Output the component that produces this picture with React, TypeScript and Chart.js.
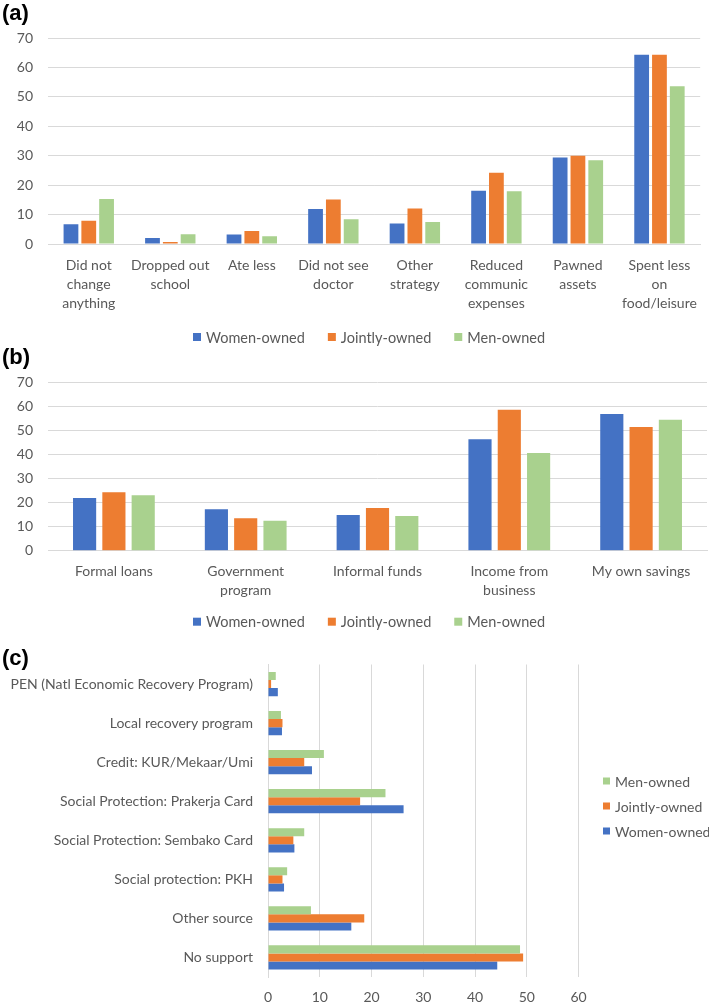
import React, { useEffect, useRef } from "react";
import { Chart, registerables } from "chart.js";

Chart.register(...registerables);

const FONT = "Lato, 'Noto Sans', sans-serif";
const TEXT = "#595959";
const GRID = "#D9D9D9";
const BLUE = "#4472C4";
const ORANGE = "#ED7D31";
const GREEN = "#A9D18E";

const seriesLabels = ["Women-owned", "Jointly-owned", "Men-owned"];

// (a) coping strategies
const copingCategories = [
  ["Did not", "change", "anything"],
  ["Dropped out", "school"],
  ["Ate less"],
  ["Did not see", "doctor"],
  ["Other", "strategy"],
  ["Reduced", "communic", "expenses"],
  ["Pawned", "assets"],
  ["Spent less", "on", "food/leisure"],
];
const copingWomen = [6.7, 2.0, 3.2, 11.9, 7.0, 18.1, 29.4, 64.3];
const copingJoint = [7.9, 0.7, 4.4, 15.1, 12.1, 24.2, 30.0, 64.3];
const copingMen = [15.3, 3.3, 2.6, 8.4, 7.5, 17.9, 28.5, 53.6];

// (b) funding sources
const fundingCategories = [
  ["Formal loans"],
  ["Government", "program"],
  ["Informal funds"],
  ["Income from", "business"],
  ["My own savings"],
];
const fundingWomen = [21.9, 17.2, 14.8, 46.3, 56.8];
const fundingJoint = [24.3, 13.5, 17.7, 58.6, 51.4];
const fundingMen = [23.1, 12.5, 14.4, 40.6, 54.4];

// (c) support received
const supportCategories = [
  "PEN (Natl Economic Recovery Program)",
  "Local recovery program",
  "Credit: KUR/Mekaar/Umi",
  "Social Protection: Prakerja Card",
  "Social Protection: Sembako Card",
  "Social protection: PKH",
  "Other source",
  "No support",
];
const supportMen = [1.5, 2.5, 10.8, 22.7, 7.0, 3.7, 8.3, 48.7];
const supportJoint = [0.6, 2.8, 7.0, 17.8, 4.9, 2.8, 18.6, 49.3];
const supportWomen = [1.9, 2.7, 8.5, 26.2, 5.1, 3.1, 16.1, 44.3];

const axisMax = 70;
const axisMaxC = 60;
const axisStep = 10;

Chart.defaults.font.family = FONT;
Chart.defaults.color = TEXT;

const customLegend = {
  id: "customLegend",
  afterDraw(chart: any, _args: any, opts: any) {
    if (!opts || !opts.mode) return;
    const ctx = chart.ctx;
    ctx.save();
    ctx.font = `${opts.fontSize}px ${FONT}`;
    ctx.textBaseline = "middle";
    ctx.textAlign = "left";
    const items = chart.data.datasets.map((ds: any) => ({
      label: ds.label,
      color: ds.backgroundColor,
      w: ctx.measureText(ds.label).width,
    }));
    const box = opts.box;
    const gap = opts.gap;
    if (opts.mode === "row") {
      const total =
        items.reduce((s: number, it: any) => s + box + gap + it.w, 0) +
        opts.itemGap * (items.length - 1);
      let x = opts.cx - total / 2;
      for (const it of items) {
        ctx.fillStyle = it.color;
        ctx.fillRect(x, opts.y - box / 2, box, box);
        ctx.fillStyle = TEXT;
        ctx.fillText(it.label, x + box + gap, opts.y + 1);
        x += box + gap + it.w + opts.itemGap;
      }
    } else {
      items.forEach((it: any, i: number) => {
        const y = opts.y + i * opts.rowGap;
        ctx.fillStyle = it.color;
        ctx.fillRect(opts.x, y - box / 2, box, box);
        ctx.fillStyle = TEXT;
        ctx.fillText(it.label, opts.x + box + gap, y + 1);
      });
    }
    ctx.restore();
  },
};

function verticalConfig(
  categories: string[][],
  women: number[],
  joint: number[],
  men: number[],
  title: string,
  p: any
): any {
  return {
    type: "bar",
    data: {
      labels: categories,
      datasets: [
        { label: seriesLabels[0], data: women, backgroundColor: BLUE },
        { label: seriesLabels[1], data: joint, backgroundColor: ORANGE },
        { label: seriesLabels[2], data: men, backgroundColor: GREEN },
      ].map((d) => ({
        ...d,
        categoryPercentage: p.catPct,
        barPercentage: p.barPct,
        borderWidth: 0,
      })),
    },
    options: {
      responsive: false,
      animation: false,
      devicePixelRatio: 1,
      layout: { padding: { top: 0, left: 2, right: 2, bottom: p.bottomPad } },
      plugins: {
        legend: { display: false },
        tooltip: { enabled: false },
        title: {
          display: true,
          text: title,
          align: "start",
          color: "#000",
          font: { family: "'Liberation Sans', Arial, sans-serif", size: 22, weight: "bold", lineHeight: 1 },
          padding: { top: p.titleTop, bottom: p.titleBottom },
        },
        customLegend: {
          mode: "row",
          cx: 369,
          y: p.legendY,
          box: 8,
          gap: 5,
          itemGap: 23,
          fontSize: 14.5,
        },
      },
      scales: {
        x: {
          grid: { display: false, drawTicks: false },
          border: { display: true, color: GRID, width: 1 },
          ticks: {
            autoSkip: false,
            maxRotation: 0,
            minRotation: 0,
            padding: p.xPad,
            color: TEXT,
            font: { size: 14, lineHeight: 1.36 },
          },
          afterFit: (s: any) => {
            s.height = p.xHeight;
          },
        },
        y: {
          min: 0,
          max: axisMax,
          grid: { color: GRID, drawTicks: false, lineWidth: 1 },
          border: { display: false },
          ticks: { stepSize: axisStep, padding: 15, color: TEXT, font: { size: 14 } },
          afterFit: (s: any) => {
            s.width = 46;
          },
        },
      },
    },
    plugins: [customLegend],
  };
}

function horizontalConfig(): any {
  return {
    type: "bar",
    data: {
      labels: supportCategories,
      datasets: [
        { label: seriesLabels[2], data: supportMen, backgroundColor: GREEN },
        { label: seriesLabels[1], data: supportJoint, backgroundColor: ORANGE },
        { label: seriesLabels[0], data: supportWomen, backgroundColor: BLUE },
      ].map((d) => ({ ...d, categoryPercentage: 0.62, barPercentage: 1.0, borderWidth: 0 })),
    },
    options: {
      indexAxis: "y",
      responsive: false,
      animation: false,
      devicePixelRatio: 1,
      layout: { padding: { top: 0, left: 2, right: 130.5, bottom: 0 } },
      plugins: {
        legend: { display: false },
        tooltip: { enabled: false },
        title: {
          display: true,
          text: "(c)",
          align: "start",
          color: "#000",
          font: { family: "'Liberation Sans', Arial, sans-serif", size: 22, weight: "bold", lineHeight: 0.5 },
          padding: { top: 14.5, bottom: 0 },
        },
        customLegend: {
          mode: "column",
          x: 603,
          y: 781 - 639,
          rowGap: 25,
          box: 7,
          gap: 5,
          fontSize: 14,
        },
      },
      scales: {
        x: {
          min: 0,
          max: axisMaxC,
          grid: { color: GRID, drawTicks: false, lineWidth: 1 },
          border: { display: false },
          ticks: { stepSize: axisStep, padding: 12, color: TEXT, font: { size: 14 } },
          afterFit: (s: any) => {
            s.height = 26;
          },
        },
        y: {
          grid: { display: false, drawTicks: false },
          border: { display: true, color: GRID, width: 1 },
          ticks: { autoSkip: false, padding: 15, color: TEXT, font: { size: 14 } },
          afterFit: (s: any) => {
            s.width = 266;
          },
        },
      },
    },
    plugins: [customLegend],
  };
}

function ChartCanvas({ config, width, height }: { config: () => any; width: number; height: number }) {
  const ref = useRef<HTMLCanvasElement | null>(null);
  useEffect(() => {
    if (!ref.current) return;
    const chart = new Chart(ref.current, config());
    return () => chart.destroy();
  }, []);
  return <canvas ref={ref} width={width} height={height} style={{ display: "block", width, height }} />;
}

export default function App() {
  return (
    <div style={{ position: "absolute", left: 0, top: 0, width: 709, height: 1003, background: "#fff" }}>
      <ChartCanvas
        width={709}
        height={347}
        config={() =>
          verticalConfig(copingCategories, copingWomen, copingJoint, copingMen, "(a)", {
            catPct: 0.655,
            barPct: 0.83,
            bottomPad: 33,
            xHeight: 70,
            xPad: 12,
            titleTop: 3,
            titleBottom: 13,
            legendY: 337,
          })
        }
      />
      <ChartCanvas
        width={709}
        height={292}
        config={() =>
          verticalConfig(fundingCategories, fundingWomen, fundingJoint, fundingMen, "(b)", {
            catPct: 0.667,
            barPct: 0.79,
            bottomPad: 33.3,
            xHeight: 55,
            xPad: 11,
            titleTop: 0,
            titleBottom: 13.3,
            legendY: 621.7 - 347,
          })
        }
      />
      <ChartCanvas width={709} height={364} config={horizontalConfig} />
    </div>
  );
}
